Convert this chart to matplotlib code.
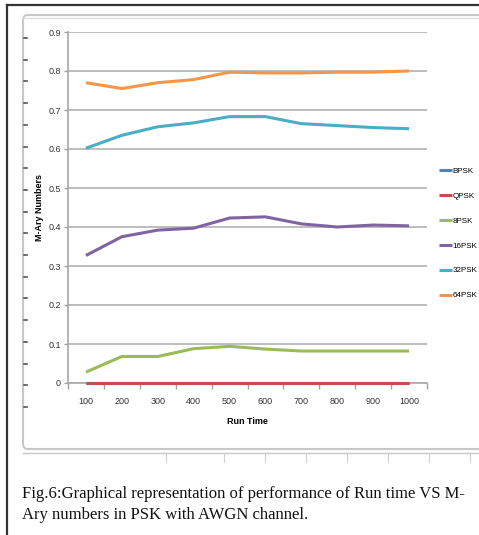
import matplotlib
matplotlib.use("Agg")
import matplotlib.pyplot as plt
from matplotlib.lines import Line2D
from matplotlib.patches import FancyBboxPatch

# run time steps and the M-ary PSK results
run_time = ["100", "200", "300", "400", "500", "600", "700", "800", "900", "1000"]
bpsk = [0, 0, 0, 0, 0, 0, 0, 0, 0, 0]
qpsk = [0, 0, 0, 0, 0, 0, 0, 0, 0, 0]
psk8 = [0.028, 0.068, 0.068, 0.088, 0.094, 0.087, 0.082, 0.082, 0.082, 0.082]
psk16 = [0.327, 0.375, 0.392, 0.397, 0.423, 0.426, 0.408, 0.400, 0.405, 0.403]
psk32 = [0.602, 0.635, 0.657, 0.667, 0.683, 0.683, 0.665, 0.660, 0.655, 0.652]
psk64 = [0.770, 0.755, 0.770, 0.778, 0.797, 0.795, 0.795, 0.797, 0.797, 0.800]

series = [("BPSK", bpsk, "#4F81BD"), ("QPSK", qpsk, "#C0504D"),
          ("8PSK", psk8, "#9BBB59"), ("16PSK", psk16, "#8064A2"),
          ("32PSK", psk32, "#4BACC6"), ("64PSK", psk64, "#F79646")]
y_ticks = [0, 0.1, 0.2, 0.3, 0.4, 0.5, 0.6, 0.7, 0.8, 0.9]

narrow = ["Liberation Sans Narrow", "Liberation Sans", "DejaVu Sans"]
W, H = 479, 535
fig = plt.figure(figsize=(W / 100, H / 100), dpi=100)


def fx(px):
    return px / W


def fy(py):
    return 1 - py / H


def fline(xs, ys, **kw):
    fig.add_artist(Line2D([fx(v) for v in xs], [fy(v) for v in ys], zorder=-5, **kw))


# page border and the chart object frame behind the axes
fline([7, 7], [5, H], color="#333333", lw=1.6)
fline([7, W], [5, 5], color="#333333", lw=1.6)
frame = FancyBboxPatch((fx(23), fy(449)), 1.0, fy(15) - fy(449),
                       boxstyle="round,pad=0,rounding_size=0.01",
                       transform=fig.transFigure, fc="white", ec="#c8c8c8", lw=1.5,
                       zorder=-6)
fig.add_artist(frame)
fline([23, W], [18, 18], color="#e0e0e0", lw=1.0)
fline([23, W], [453, 453], color="#c8c8c8", lw=1.0)
for px in [166, 224, 265, 306, 347, 388, 429, 470]:
    fline([px, px], [453, 462], color="#d0d0d0", lw=0.8)
for k in range(18):
    py = 38 + k * 21.7
    fline([23.5, 26.5], [py, py], color="#444444", lw=1.1)

ax = fig.add_axes([fx(68), fy(383), fx(427) - fx(68), fy(32) - fy(383)])
ax.patch.set_alpha(0)
x = list(range(len(run_time)))
for name, vals, col in series:
    ax.plot(x, vals, color=col, lw=2.2, label=name, solid_capstyle="butt",
            zorder=3, clip_on=False)

ax.set_xlim(-0.5, len(run_time) - 0.5)
ax.set_ylim(0, 0.9)
ax.set_yticks(y_ticks)
ax.set_yticklabels([f"{v:g}" for v in y_ticks], fontfamily=narrow, fontsize=6.5, color="#333333")
ax.set_xticks(x)
ax.set_xticklabels(run_time, fontfamily=narrow, fontsize=6.5, color="#333333")
ax.set_xticks([i - 0.5 for i in range(len(run_time) + 1)], minor=True)
ax.tick_params(axis="x", which="major", length=0, pad=10)
ax.tick_params(axis="x", which="minor", length=4, color="#a0a0a0", width=1)
ax.tick_params(axis="y", length=3, color="#a0a0a0", width=1, pad=2)
ax.grid(axis="y", color="#b8b8b8", lw=1.3)
ax.set_axisbelow(True)
for side in ["top", "right"]:
    ax.spines[side].set_visible(False)
for side in ["left", "bottom"]:
    ax.spines[side].set_color("#a8a8a8")
    ax.spines[side].set_linewidth(1.2)

ax.set_xlabel("Run Time", fontfamily=narrow, fontsize=6.5, fontweight="bold", labelpad=8)
ax.set_ylabel("M-Ary Numbers", fontfamily=narrow, fontsize=6.5, fontweight="bold", labelpad=3)

ax.legend(loc="upper left", bbox_to_anchor=(fx(435), fy(163)),
          bbox_transform=fig.transFigure, frameon=False,
          prop={"family": narrow, "size": 5.8}, handlelength=1.6,
          handletextpad=0.1, labelspacing=2.15, borderpad=0)

caption = ("Fig.6:Graphical representation of performance of Run time VS M-\n"
           "Ary numbers in PSK with AWGN channel.")
fig.text(fx(22), fy(486), caption, fontfamily=["Liberation Serif", "DejaVu Serif"],
         fontsize=12, va="top", ha="left", color="#111111", linespacing=1.4)

fig.savefig("out.png", dpi=100)
